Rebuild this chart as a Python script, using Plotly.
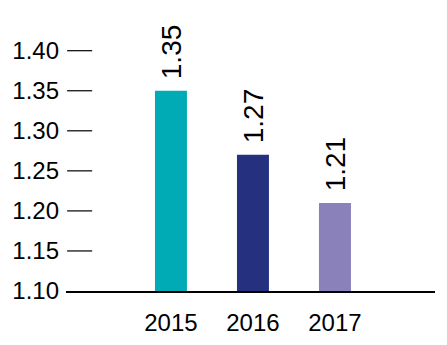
import plotly.graph_objects as go

years = ["2015", "2016", "2017"]
values = [1.35, 1.27, 1.21]
colors = ["#00ABB6", "#25317F", "#8A80BA"]
y_ticks = [1.10, 1.15, 1.20, 1.25, 1.30, 1.35, 1.40]

FONT = "Liberation Sans, Arial, Helvetica, sans-serif"

fig = go.Figure(
    go.Bar(
        x=years,
        y=values,
        marker=dict(color=colors, line=dict(width=0)),
        width=0.39,
        cliponaxis=False,
    )
)

# vertical value labels sitting above each bar (x given as category index)
for i, v in enumerate(values):
    fig.add_annotation(
        x=i, y=v, xref="x", yref="y",
        text=f"{v:.2f}", textangle=-90,
        showarrow=False, xanchor="center", yanchor="bottom",
        yshift=10,
        font=dict(family=FONT, size=28, color="black"),
    )

# short horizontal marks beside each y tick label
for t in y_ticks[1:]:
    fig.add_shape(
        type="line", xref="paper", yref="y",
        x0=0.003, x1=0.071, y0=t, y1=t,
        line=dict(color="black", width=1.2),
    )

fig.update_layout(
    width=447, height=345,
    margin=dict(l=66, r=12, t=0, b=54),
    paper_bgcolor="white", plot_bgcolor="white",
    showlegend=False,
    font=dict(family=FONT, size=24, color="black"),
    xaxis=dict(
        type="category",
        range=[-1.28, 3.22],
        showline=True, linecolor="black", linewidth=1.5,
        showgrid=False, zeroline=False, ticks="",
        tickfont=dict(size=24),
        ticklabelstandoff=9,
    ),
    yaxis=dict(
        range=[1.10, 1.4633],
        tickvals=y_ticks,
        ticktext=[f"{t:.2f}" for t in y_ticks],
        showgrid=False, zeroline=False, showline=False, ticks="",
        tickfont=dict(size=24),
        ticklabelstandoff=6,
    ),
)

fig.write_html("out.html")
